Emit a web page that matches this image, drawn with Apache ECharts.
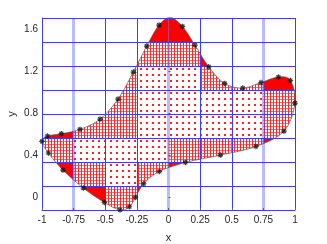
<!DOCTYPE html>
<html>
<head>
<meta charset="utf-8">
<script src="https://cdn.jsdelivr.net/npm/echarts@6/dist/echarts.min.js"></script>
<style>
  html, body { margin: 0; padding: 0; background: #fff; }
  #chart { width: 327px; height: 244px; }
</style>
</head>
<body>
<div id="chart"></div>
<script>
// boundary stars, clockwise from the left tip
const ptX = [-1.0, -0.957, -0.847, -0.70, -0.541, -0.399, -0.278, -0.172, -0.075, 0.015, 0.11, 0.209,
  0.318, 0.444, 0.587, 0.731, 0.869, 0.964, 1.0, 0.913, 0.692, 0.410, 0.134, -0.072,
  -0.196, -0.262, -0.309, -0.383, -0.507, -0.673, -0.834, -0.949]
const ptY = [0.534, 0.585, 0.607, 0.648, 0.746, 0.936, 1.192, 1.439, 1.638, 1.71, 1.625, 1.448,
  1.242, 1.084, 1.04, 1.093, 1.145, 1.112, 0.898, 0.632, 0.486, 0.404, 0.334, 0.249,
  0.132, 0.002, -0.086, -0.117, -0.045, 0.091, 0.262, 0.424]

// cell fill per grid cell, bottom row first
// s = sparse dots, d = dense hatch, r = solid red, . = empty
const cellRows = [
  '.rdr....',
  'rdsdr...',
  'dsssdddr',
  'rddssssd',
  '.ddssssd',
  '..dssddr',
  '...ddr..',
  '...rr...'
]

const xMin = -1, xMax = 1, xStep = 0.25
const yMin = -0.117, yStep = 0.22775
const yMax = yMin + 8 * yStep
const yTickLabels = [0, 0.4, 0.8, 1.2, 1.6]

// closed catmull-rom through the stars
const outline = []
const n = ptX.length
for (let i = 0; i < n; i++) {
  const p0 = [ptX[(i - 1 + n) % n], ptY[(i - 1 + n) % n]]
  const p1 = [ptX[i], ptY[i]]
  const p2 = [ptX[(i + 1) % n], ptY[(i + 1) % n]]
  const p3 = [ptX[(i + 2) % n], ptY[(i + 2) % n]]
  for (let s = 0; s < 16; s++) {
    const t = s / 16, t2 = t * t, t3 = t2 * t
    const pt = [0, 1].map(k => 0.5 * (2 * p1[k] + (-p0[k] + p2[k]) * t +
      (2 * p0[k] - 5 * p1[k] + 4 * p2[k] - p3[k]) * t2 +
      (-p0[k] + 3 * p1[k] - 3 * p2[k] + p3[k]) * t3))
    outline.push(pt)
  }
}

// sutherland-hodgman against one half plane
const clipHalf = (poly, k, v, sign) => {
  const out = []
  for (let i = 0; i < poly.length; i++) {
    const a = poly[i], b = poly[(i + 1) % poly.length]
    const ina = sign * (a[k] - v) >= 0, inb = sign * (b[k] - v) >= 0
    if (ina) out.push(a)
    if (ina !== inb) {
      const t = (v - a[k]) / (b[k] - a[k])
      out.push([a[0] + t * (b[0] - a[0]), a[1] + t * (b[1] - a[1])])
    }
  }
  return out
}

const cellPolys = []
const cellData = []
cellRows.forEach((row, r) => {
  row.split('').forEach((kind, c) => {
    if (kind === '.') return
    const x0 = xMin + c * xStep, y0 = yMin + r * yStep
    let poly = clipHalf(outline, 0, x0, 1)
    poly = clipHalf(poly, 0, x0 + xStep, -1)
    poly = clipHalf(poly, 1, y0, 1)
    poly = clipHalf(poly, 1, y0 + yStep, -1)
    if (poly.length < 3) return
    cellPolys.push(poly)
    cellData.push([x0 + xStep / 2, y0 + yStep / 2, kind])
  })
})

const makePattern = (size, draw) => {
  const cv = document.createElement('canvas')
  cv.width = size
  cv.height = size
  const ctx = cv.getContext('2d')
  ctx.fillStyle = '#fff'
  ctx.fillRect(0, 0, size, size)
  draw(ctx)
  return { image: cv, repeat: 'repeat' }
}
const fills = {
  s: makePattern(6, ctx => {
    ctx.fillStyle = '#ff2020'
    ctx.fillRect(2, 2, 2, 2)
  }),
  d: makePattern(3, ctx => {
    ctx.fillStyle = '#ff6a6a'
    ctx.fillRect(1, 0, 2, 1)
    ctx.fillStyle = '#ff2828'
    ctx.fillRect(0, 0, 1, 3)
  }),
  r: '#ff0000'
}

const textColor = '#262626'
const gridBlue = '#3c3cff'

const chart = echarts.init(document.getElementById('chart'))
chart.setOption({
  animation: false,
  grid: { left: 42, right: 32, top: 18, bottom: 34, containLabel: false, outerBoundsMode: 'none' },
  xAxis: {
    type: 'value', min: xMin, max: xMax, interval: xStep, z: 3,
    name: 'x', nameLocation: 'middle', nameGap: 22,
    nameTextStyle: { color: textColor, fontSize: 11, fontFamily: 'Liberation Sans' },
    axisLine: { onZero: false, lineStyle: { color: gridBlue } },
    axisTick: { inside: true, length: 2, lineStyle: { color: '#666' } },
    axisLabel: { color: textColor, fontSize: 10, margin: 5, fontFamily: 'Liberation Sans' },
    splitLine: { lineStyle: { color: [gridBlue, 'rgba(0,0,0,0)', gridBlue], width: 1 } }
  },
  yAxis: [
    {
      type: 'value', min: yMin, max: yMax, interval: yStep, z: 3,
      name: 'y', nameLocation: 'middle', nameGap: 25,
      nameTextStyle: { color: textColor, fontSize: 11, fontFamily: 'Liberation Sans' },
      axisLine: { show: true, onZero: false, lineStyle: { color: gridBlue } },
      axisTick: { show: false },
      axisLabel: { show: false },
      splitLine: { lineStyle: { color: gridBlue, width: 1 } }
    },
    {
      type: 'value', min: yMin, max: yMax, position: 'left', z: 3,
      axisLine: { show: false },
      axisTick: { show: true, inside: true, length: 2, customValues: yTickLabels, lineStyle: { color: '#666' } },
      axisLabel: { color: textColor, fontSize: 10, margin: 4, customValues: yTickLabels, fontFamily: 'Liberation Sans' },
      splitLine: { show: false }
    }
  ],
  series: [
    {
      type: 'custom',
      z: 2,
      silent: true,
      data: cellData,
      renderItem: (params, api) => {
        const poly = cellPolys[params.dataIndex]
        return {
          type: 'polygon',
          shape: { points: poly.map(p => api.coord(p)) },
          style: { fill: fills[cellData[params.dataIndex][2]], stroke: null }
        }
      }
    },
    {
      type: 'line',
      data: [],
      silent: true,
      markLine: {
        silent: true,
        symbol: 'none',
        label: { show: false },
        lineStyle: { color: 'rgba(60,60,255,0.35)', width: 3, type: 'solid' },
        data: [{ xAxis: -0.75 }, { xAxis: 0 }, { xAxis: 0.75 }]
      }
    },
    {
      type: 'custom',
      z: 6,
      silent: true,
      data: [[0, 0]],
      renderItem: (params, api) => ({
        type: 'polyline',
        shape: { points: outline.concat([outline[0]]).map(p => api.coord(p)) },
        style: { stroke: '#555', lineWidth: 0.7, fill: null }
      })
    },
    {
      type: 'scatter',
      z: 7,
      silent: true,
      data: ptX.map((x, i) => [x, ptY[i]]),
      symbol: 'path://M0,-1L0,1M-1,0L1,0M-0.7,-0.7L0.7,0.7M-0.7,0.7L0.7,-0.7',
      symbolSize: 5.5,
      itemStyle: { color: 'rgba(0,0,0,0)', borderColor: '#111', borderWidth: 1.2 }
    }
  ]
})
</script>
</body>
</html>
